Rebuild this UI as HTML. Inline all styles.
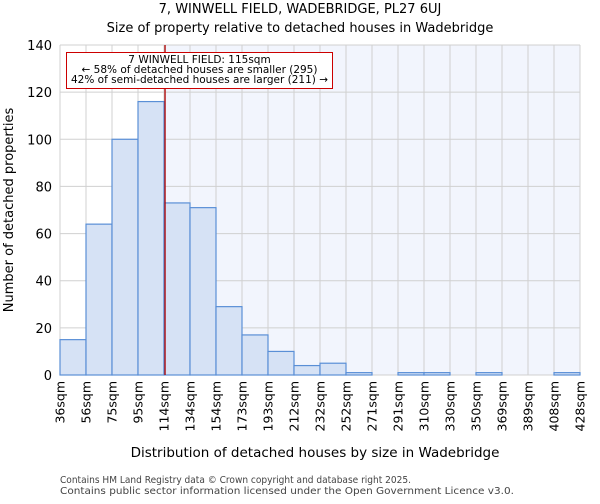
<!DOCTYPE html>
<html><head><meta charset="utf-8"><style>
body{margin:0;background:#fff;font-family:"DejaVu Sans","Liberation Sans",sans-serif;}
</style></head><body>
<svg id="c" width="600" height="500" xmlns="http://www.w3.org/2000/svg" font-family="DejaVu Sans, Liberation Sans, sans-serif">
<text x="300" y="13" font-size="13" text-anchor="middle">7, WINWELL FIELD, WADEBRIDGE, PL27 6UJ</text>
<text x="300" y="32" font-size="13" text-anchor="middle">Size of property relative to detached houses in Wadebridge</text>
<g id="plot"></g>
<text x="315" y="457" font-size="13.5" text-anchor="middle">Distribution of detached houses by size in Wadebridge</text>
<text transform="translate(13,210) rotate(-90)" font-size="13" text-anchor="middle">Number of detached properties</text>
<text x="60" y="483" font-size="10" fill="#444" textLength="351" lengthAdjust="spacingAndGlyphs">Contains HM Land Registry data © Crown copyright and database right 2025.</text>
<text x="60" y="494" font-size="10" fill="#444" textLength="454" lengthAdjust="spacingAndGlyphs">Contains public sector information licensed under the Open Government Licence v3.0.</text>
</svg>
<script>
const categories=["36sqm","56sqm","75sqm","95sqm","114sqm","134sqm","154sqm","173sqm","193sqm","212sqm","232sqm","252sqm","271sqm","291sqm","310sqm","330sqm","350sqm","369sqm","389sqm","408sqm","428sqm"];
const counts=[15,64,100,116,73,71,29,17,10,4,5,1,0,1,1,0,1,0,0,1];
const yTicks=[0,20,40,60,80,100,120,140];
const propertyBin=4.04;
const NS="http://www.w3.org/2000/svg";
const g=document.getElementById('plot');
const X0=60,X1=580,Y0=375,Y1=45,YMAX=140;
const bw=(X1-X0)/counts.length;
const xs=i=>X0+i*bw;
const ys=v=>Y0-(v/YMAX)*(Y0-Y1);
function mk(t,a){const e=document.createElementNS(NS,t);for(const k in a)e.setAttribute(k,a[k]);g.appendChild(e);return e;}
const px=xs(propertyBin);
let e=mk('rect',{x:X0,y:Y1,width:px-X0,height:Y0-Y1,fill:'#ffffff'});


e=mk('rect',{x:px,y:Y1,width:X1-px,height:Y0-Y1,fill:'#f2f5fd'});


for(let i=0;i<=counts.length;i++){
 e=mk('line',{x1:xs(i),x2:xs(i),y1:Y1,y2:Y0,stroke:'#d0d0d0','stroke-width':1});
 
 
}
yTicks.forEach(v=>{
 e=mk('line',{x1:X0,x2:X1,y1:ys(v),y2:ys(v),stroke:'#d0d0d0','stroke-width':1});
 
 
 e=mk('text',{x:X0-8,y:ys(v)+5,'font-size':13,'text-anchor':'end'});
 e.textContent=v;
 
 
});
counts.forEach((v,i)=>{
 e=mk('rect',{x:xs(i),y:ys(v),width:bw,height:Y0-ys(v),fill:'#d6e2f5',stroke:'#5a8fd6','stroke-width':1.2});
 
 
});
categories.forEach((c,i)=>{
 e=mk('text',{transform:`translate(${xs(i)+4.5},381) rotate(-90)`,'font-size':12.5,'text-anchor':'end'});
 e.textContent=c;
 
 
});
e=mk('line',{x1:px,x2:px,y1:Y1,y2:Y0,stroke:'#b00000','stroke-width':1.3});


e=mk('rect',{x:66.5,y:52.5,width:266,height:36,fill:'#fff',stroke:'#cc0000','stroke-width':1});


[["7 WINWELL FIELD: 115sqm",63,null],["← 58% of detached houses are smaller (295)",73,null],["42% of semi-detached houses are larger (211) →",83,257]].forEach(([t,y,L])=>{
 e=mk('text',{x:199.5,y:y,'font-size':10.5,'text-anchor':'middle'});
 if(L){e.setAttribute('textLength',L);e.setAttribute('lengthAdjust','spacingAndGlyphs');}
 e.textContent=t;
 
 
});
</script>
</body></html>
